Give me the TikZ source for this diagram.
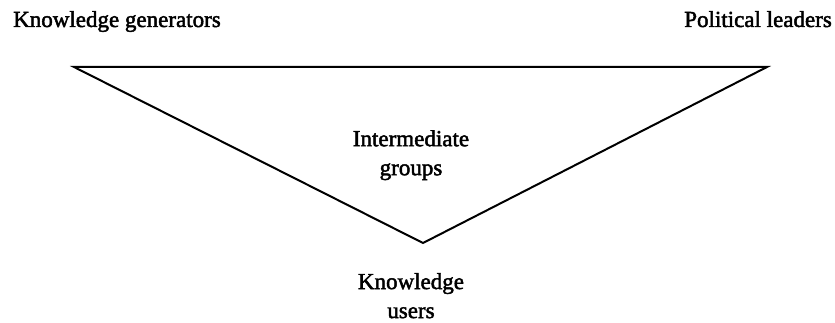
\documentclass[tikz,border=0pt]{standalone}
\usepackage{fontspec}
\setmainfont{Liberation Serif}
\newfontfamily\lblfont{Liberation Serif}[FakeBold=2]
\begin{document}
\begin{tikzpicture}[x=1pt,y=-1pt,
  lbl/.style={inner sep=0pt,font=\lblfont\fontsize{23}{29}\selectfont,align=center},
  tri/.style={draw,line width=2pt,line join=miter}]
\useasboundingbox (0,0) rectangle (835,323);
\coordinate (tl) at (74,67);
\coordinate (tr) at (767,67);
\coordinate (bt) at (423,243);
\draw[tri] (tl) -- (tr) -- (bt) -- cycle;
\node[lbl,anchor=base west] (gen) at (13,27) {Knowledge generators};
\node[lbl,anchor=base east] (pol) at (832,27) {Political leaders};
\node[lbl] (mid) at (411,155.2) {Intermediate\\groups};
\node[lbl] (usr) at (411,295.7) {Knowledge\\users};
\end{tikzpicture}
\end{document}
